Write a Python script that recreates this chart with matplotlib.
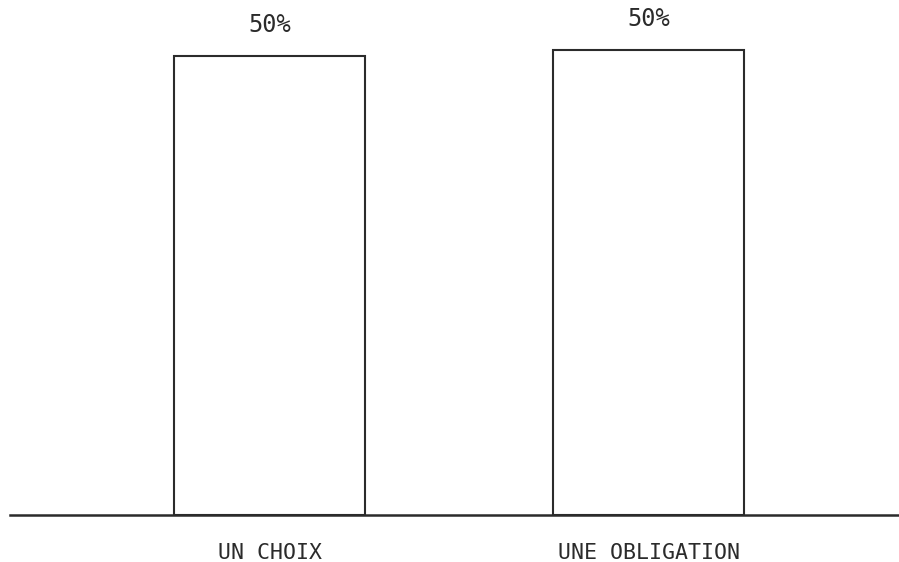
import matplotlib
matplotlib.use("Agg")
import matplotlib.pyplot as plt

categories = ["UN CHOIX", "UNE OBLIGATION"]
values = [49.7, 50.3]
labels = ["50%", "50%"]

W, H = 899, 562
fig = plt.figure(figsize=(W / 100, H / 100), dpi=100)
ax = fig.add_axes([10 / W, (H - 515) / H, 889 / W, 515 / H])

ink = "#2b2b2b"
x = [0, 1]
ax.bar(x, values, width=0.504, facecolor="white", edgecolor=ink, linewidth=1.5, zorder=2)
ax.set_xlim(-0.685, 1.661)
ax.set_ylim(0, 50.3 * 515 / 465)
ax.axhline(0, color=ink, linewidth=1.8, zorder=3, clip_on=False)

for xi, v, lab in zip(x, values, labels):
    ax.annotate(lab, (xi, v), xytext=(0, 13.5), textcoords="offset points",
                ha="center", va="bottom", fontsize=17, family="DejaVu Sans Mono", color=ink)

for xi, c in zip(x, categories):
    ax.annotate(c, (xi, 0), xytext=(0, -20.5), textcoords="offset points",
                ha="center", va="top", fontsize=15.5, family="DejaVu Sans Mono", color=ink)

for s in ax.spines.values():
    s.set_visible(False)
ax.set_xticks([])
ax.set_yticks([])

fig.savefig("out.png", dpi=100)
